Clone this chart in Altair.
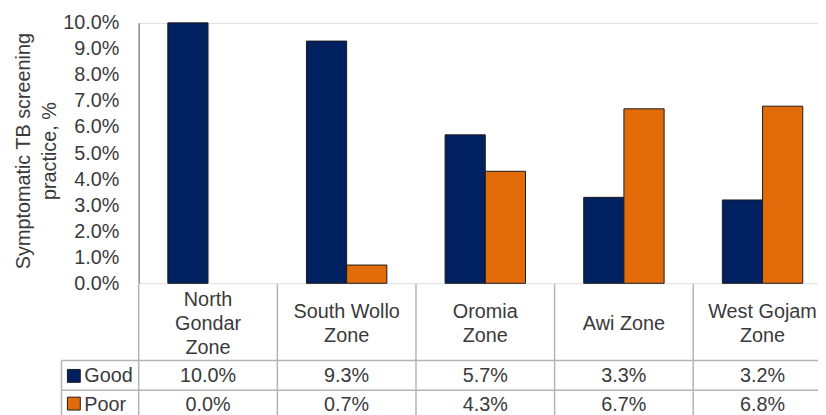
import altair as alt
import pandas as pd

# ---- data ----
categories = ["North\nGondar\nZone", "South Wollo\nZone", "Oromia\nZone", "Awi Zone", "West Gojam\nZone"]
series = ["Good", "Poor"]
good = [10.0, 9.3, 5.7, 3.3, 3.2]
poor = [0.0, 0.7, 4.3, 6.7, 6.8]
colors = ["#002060", "#E36C0A"]
y_ticks = [0, 1, 2, 3, 4, 5, 6, 7, 8, 9, 10]

FONT = "Liberation Sans"
TXT = "#3a3a3a"
AXIS_GRAY = "#8c8c8c"
GRID_GRAY = "#b4b4b4"

BW = 0.29  # bar width as fraction of category

rows = []
for i, cat in enumerate(categories):
    for s, vals in zip(series, [good, poor]):
        rows.append({"idx": i, "cat": cat, "series": s, "value": vals[i]})
df = pd.DataFrame(rows)
cat_df = pd.DataFrame({"idx": list(range(len(categories))), "cat": categories,
                       "good": good, "poor": poor})
ser_df = pd.DataFrame({"series": series})

W = 686
H = 263
xscale = alt.Scale(domain=[0, W / 140.0], nice=False, zero=False)
yscale = alt.Scale(domain=[0, 10], nice=False)
color = alt.Color("series:N", scale=alt.Scale(domain=series, range=colors), legend=None)

def xq(field):
    return alt.X(field, scale=xscale, axis=None)

bars = alt.Chart(df).transform_calculate(
    x0=f"datum.series == 'Good' ? datum.idx + 0.5 - {BW} : datum.idx + 0.5",
    x1=f"datum.series == 'Good' ? datum.idx + 0.5 : datum.idx + 0.5 + {BW}",
).mark_bar(stroke="#1a1a1a", strokeWidth=1, clip=False).encode(
    x=alt.X("x0:Q", scale=xscale,
            axis=alt.Axis(labels=False, ticks=False, grid=False, title=None, orient="bottom",
                          domainColor=AXIS_GRAY, domainWidth=1.5)),
    x2="x1:Q",
    y=alt.Y("value:Q", scale=yscale,
            axis=alt.Axis(values=y_ticks, labelExpr="format(datum.value/100, '.1%')",
                          ticks=False, grid=False, labelPadding=20,
                          labelFont=FONT, labelFontSize=20, labelColor=TXT,
                          domainColor=AXIS_GRAY, domainWidth=1.5,
                          title=["Symptomatic TB screening", "practice, %"],
                          titleFont=FONT, titleFontSize=20, titleFontWeight="normal",
                          titleColor=TXT, titleAngle=270, titleBaseline="middle",
                          titleAlign="center", titleLineHeight=26,
                          titleX=-116, titleY=129)),
    y2=alt.datum(0),
    color=color,
    strokeOpacity=alt.condition("datum.value > 0", alt.value(1), alt.value(0)),
)

# table grid (vertical lines)
vlines_df = pd.DataFrame({"b": [1, 2, 3, 4]})
vlines = alt.Chart(vlines_df).mark_rule(color=GRID_GRAY, strokeWidth=1.5, clip=False).encode(
    x=xq("b:Q"), y=alt.value(H + 1), y2=alt.value(H + 140)
)
axis_ext = alt.Chart(vlines_df.head(1)).mark_rule(color=GRID_GRAY, strokeWidth=1.5, clip=False).encode(
    x=alt.value(0), y=alt.value(H + 1), y2=alt.value(H + 140)
)
# left legend column border + horizontal lines
left_border = alt.Chart(vlines_df.head(1)).mark_rule(color=GRID_GRAY, strokeWidth=1.5, clip=False).encode(
    x=alt.value(-78), y=alt.value(341), y2=alt.value(H + 140)
)
hl_df = pd.DataFrame({"yy": [341, 371, 398]})
hlines = alt.Chart(hl_df).mark_rule(color=GRID_GRAY, strokeWidth=1.5, clip=False).encode(
    x=alt.value(-78), x2=alt.value(W + 20), y=alt.Y("yy:Q", scale=None, axis=None)
)

# category labels (multi-line, vertically centred in header row)
cat_text = alt.Chart(cat_df).transform_calculate(
    xc="datum.idx + 0.5",
    yc="304 - (length(split(datum.cat, '\\n')) - 1) * 12",
).mark_text(
    font=FONT, fontSize=20, color=TXT, lineBreak="\n", lineHeight=24,
    baseline="middle", align="center", clip=False
).encode(x=xq("xc:Q"), y=alt.Y("yc:Q", scale=None, axis=None), text="cat:N")

good_text = alt.Chart(cat_df).transform_calculate(
    xc="datum.idx + 0.5", lab="format(datum.good/100, '.1%')"
).mark_text(font=FONT, fontSize=20, color=TXT, baseline="middle", align="center", clip=False).encode(
    x=xq("xc:Q"), y=alt.value(357), text="lab:N")

poor_text = alt.Chart(cat_df).transform_calculate(
    xc="datum.idx + 0.5", lab="format(datum.poor/100, '.1%')"
).mark_text(font=FONT, fontSize=20, color=TXT, baseline="middle", align="center", clip=False).encode(
    x=xq("xc:Q"), y=alt.value(386), text="lab:N")

# legend keys in table
ser_df["yk"] = [350, 378]
ser_df["yt"] = [357, 386]
keys = alt.Chart(ser_df).transform_calculate(yk2="datum.yk + 13").mark_rect(
    stroke="#1a1a1a", strokeWidth=1, clip=False).encode(
    x=alt.value(-72), x2=alt.value(-59),
    y=alt.Y("yk:Q", scale=None, axis=None), y2=alt.Y2("yk2:Q"),
    color=color,
)
key_text = alt.Chart(ser_df).mark_text(font=FONT, fontSize=20, color=TXT, baseline="middle",
                                        align="left", clip=False).encode(
    x=alt.value(-55), y=alt.Y("yt:Q", scale=None, axis=None), text="series:N")

chart = alt.layer(vlines, axis_ext, left_border, hlines, bars, cat_text, good_text, poor_text,
                  keys, key_text).properties(
    width=W, height=H,
    autosize=alt.AutoSizeParams(type="none"),
    padding={"left": 132, "top": 13, "right": 0, "bottom": 131},
).configure_view(stroke=None).configure(background="white")

chart.save("out.html", embed_options={"renderer": "svg", "actions": False})
